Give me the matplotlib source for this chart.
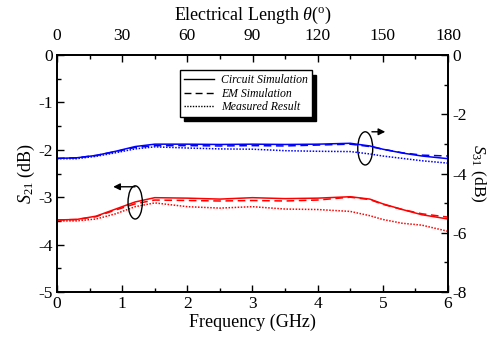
import matplotlib
matplotlib.use("Agg")
import matplotlib.pyplot as plt
from matplotlib.patches import Ellipse
from matplotlib.lines import Line2D
from matplotlib.ticker import MultipleLocator

plt.rcParams['font.family'] = ['Liberation Serif', 'DejaVu Serif']
plt.rcParams['mathtext.fontset'] = 'custom'
plt.rcParams['mathtext.rm'] = 'Liberation Serif'
plt.rcParams['mathtext.it'] = 'Liberation Serif:italic'
plt.rcParams['axes.unicode_minus'] = False

freq = [0, 0.3, 0.6, 0.9, 1.2, 1.5, 2.0, 2.5, 3.0, 3.5, 4.0, 4.5, 4.8, 5.0, 5.3, 5.6, 6.0]

s21_circuit = [-3.48, -3.47, -3.40, -3.25, -3.10, -3.01, -3.02, -3.04, -3.01, -3.03, -3.02, -2.99, -3.04, -3.14, -3.26, -3.37, -3.46]
s21_em = [-3.48, -3.47, -3.41, -3.27, -3.14, -3.06, -3.07, -3.08, -3.07, -3.08, -3.06, -3.00, -3.05, -3.15, -3.26, -3.35, -3.42]
s21_meas = [-3.50, -3.50, -3.46, -3.35, -3.20, -3.12, -3.20, -3.23, -3.20, -3.25, -3.26, -3.30, -3.39, -3.47, -3.55, -3.59, -3.72]

s31_circuit = [-3.49, -3.47, -3.39, -3.25, -3.09, -3.01, -3.01, -3.02, -3.01, -3.02, -3.01, -2.98, -3.07, -3.18, -3.31, -3.41, -3.50]
s31_em = [-3.49, -3.47, -3.39, -3.26, -3.12, -3.06, -3.06, -3.07, -3.06, -3.07, -3.04, -3.01, -3.09, -3.18, -3.30, -3.38, -3.41]
s31_meas = [-3.50, -3.50, -3.42, -3.30, -3.17, -3.10, -3.14, -3.17, -3.18, -3.23, -3.25, -3.26, -3.34, -3.41, -3.49, -3.57, -3.65]

legend_labels = ['Circuit Simulation', 'EM Simulation', 'Measured Result']
theta_ticks = [0, 30, 60, 90, 120, 150, 180]

fig = plt.figure(figsize=(4.95, 3.41), dpi=100)
ax = fig.add_axes([57/495, 1-292/341, (448-57)/495, (292-55)/341])

lw = 1.1
ax.plot(freq, s21_circuit, color='red', lw=lw, ls='-')
ax.plot(freq, s21_em, color='red', lw=lw, ls=(0, (5, 3)))
ax.plot(freq, s21_meas, color='red', lw=lw, ls=(0, (1, 1)))
ax.set_xlim(0, 6)
ax.set_ylim(-5, 0)
ax.xaxis.set_major_locator(MultipleLocator(1))
ax.xaxis.set_minor_locator(MultipleLocator(0.5))
ax.yaxis.set_major_locator(MultipleLocator(1))
ax.yaxis.set_minor_locator(MultipleLocator(0.5))
ax.set_xlabel('Frequency (GHz)', fontsize=13, labelpad=1)
ax.set_ylabel(r'$S_{21}$ (dB)', fontsize=13, labelpad=1)

ax2 = ax.twinx()
ax2.plot(freq, s31_circuit, color='blue', lw=lw, ls='-')
ax2.plot(freq, s31_em, color='blue', lw=lw, ls=(0, (5, 3)))
ax2.plot(freq, s31_meas, color='blue', lw=lw, ls=(0, (1, 1)))
ax2.set_ylim(-8, 0)
ax2.yaxis.set_major_locator(MultipleLocator(2))
ax2.yaxis.set_minor_locator(MultipleLocator(1))
ax2.set_ylabel(r'$S_{31}$ (dB)', fontsize=12.5, rotation=270, labelpad=15)

ax3 = ax.twiny()
ax3.set_xlim(0, 180)
ax3.set_xticks(theta_ticks)
ax3.xaxis.set_minor_locator(MultipleLocator(15))
ax3.set_xlabel(r'Electrical Length $\theta$($^{\rm o}$)', fontsize=13, labelpad=6)

for a in (ax, ax2, ax3):
    a.tick_params(which='both', direction='in', labelsize=12.5, width=1)
    a.tick_params(which='major', length=5, pad=3)
    a.tick_params(which='minor', length=3)
    for s in a.spines.values():
        s.set_linewidth(1.1)
ax3.tick_params(which='major', pad=8)

# annotations
ax.add_patch(Ellipse((1.2, -3.11), 0.22, 0.70, fill=False, ec='black', lw=1, zorder=5))
ax.annotate('', xy=(0.82, -2.78), xytext=(1.24, -2.78),
            arrowprops=dict(arrowstyle='-|>', color='black', lw=1, mutation_scale=10))
ax.add_patch(Ellipse((4.73, -1.97), 0.23, 0.70, fill=False, ec='black', lw=1, zorder=5))
ax.annotate('', xy=(5.08, -1.62), xytext=(4.79, -1.62),
            arrowprops=dict(arrowstyle='-|>', color='black', lw=1, mutation_scale=10))

handles = [Line2D([], [], color='black', lw=1, ls='-'),
           Line2D([], [], color='black', lw=1, ls=(0, (5, 3))),
           Line2D([], [], color='black', lw=1, ls=(0, (1, 1)))]
leg = ax3.legend(handles, legend_labels, loc='upper left',
                 bbox_to_anchor=(0.315, 0.935), fancybox=False,
                 shadow={'color': 'black', 'alpha': 1, 'ox': 3, 'oy': -3},
                 edgecolor='black', framealpha=1,
                 prop={'family': 'Liberation Serif', 'style': 'italic', 'size': 8.5},
                 handlelength=2.6, handletextpad=0.6, labelspacing=0.15,
                 borderpad=0.3, borderaxespad=0)
leg.get_frame().set_linewidth(1)

fig.savefig('out.png', dpi=100)
